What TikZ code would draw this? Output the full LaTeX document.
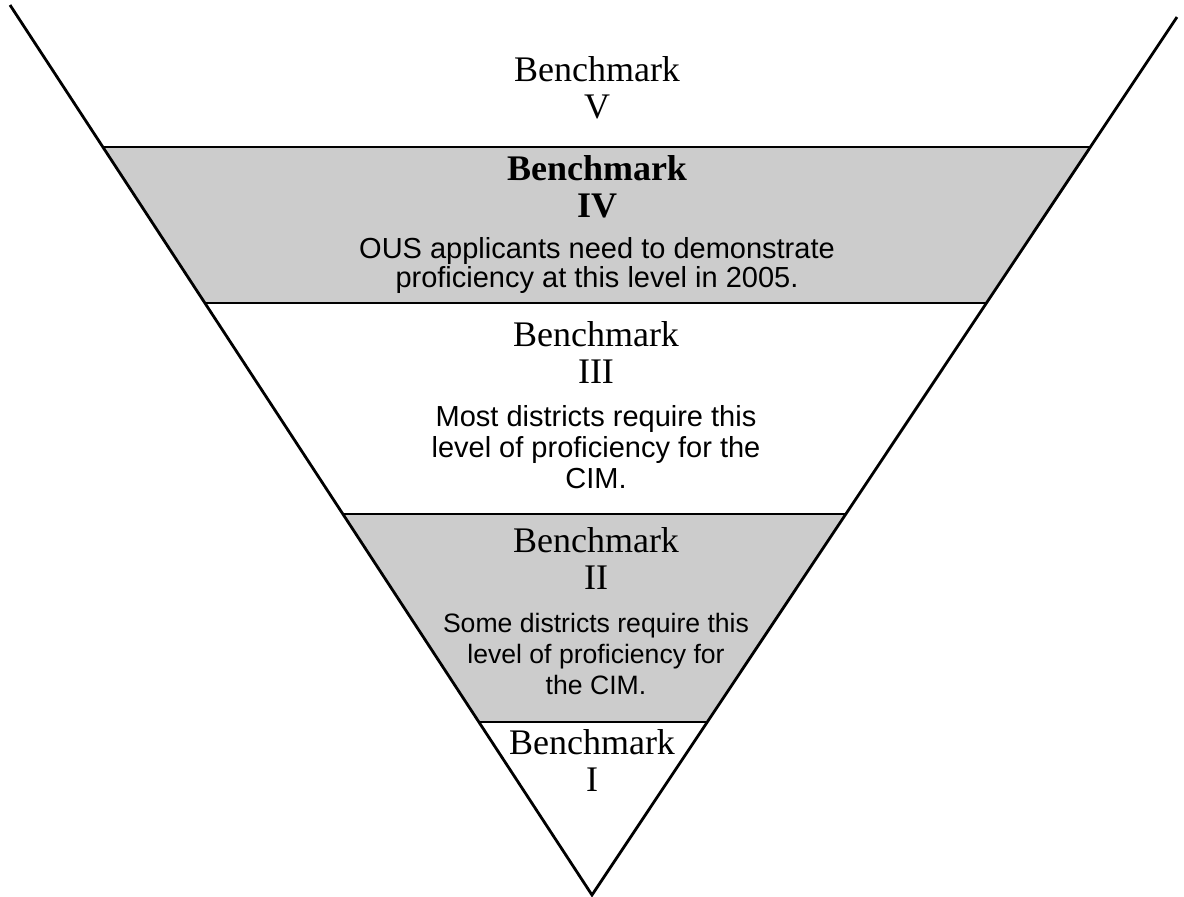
\documentclass[tikz,border=0pt]{standalone}
\usepackage{fontspec}
\setmainfont{Liberation Serif}
\setsansfont{Liberation Sans}
\usetikzlibrary{positioning}
\definecolor{band-gray}{HTML}{CCCCCC}

\begin{document}
\begin{tikzpicture}[x=0.5pt, y=-0.5pt,
  edge/.style={line width=1.4pt},
  band/.style={fill=band-gray},
  title/.style={font=\fontsize{18}{18.8}\selectfont, align=center, inner sep=0pt, anchor=north},
  note/.style={font=\sffamily\fontsize{14.5}{15.5}\selectfont, align=center, inner sep=0pt, anchor=north}]
\useasboundingbox (0,0) rectangle (1184,896);
% shaded bands
\fill[band] (102.9,147) -- (1090.4,147) -- (986.4,303) -- (204.9,303) -- cycle;
\fill[band] (342.8,514) -- (845.9,514) -- (707.3,722) -- (478.9,722) -- cycle;
% funnel
\coordinate (top-left) at (10,5);
\coordinate (top-right) at (1177,17);
\coordinate (apex) at (592,895);
\draw[edge] (top-left) -- (apex) -- (top-right);
\foreach \y/\xl/\xr in {147/102.9/1090.4, 303/204.9/986.4, 514/342.8/845.9, 722/478.9/707.3}
  \draw[edge] (\xl,\y) -- (\xr,\y);
% labels
\node[title] (bench-v) at (597,56) {Benchmark\\V};
\node[title, font=\bfseries\fontsize{18}{18.8}\selectfont] (bench-iv) at (597,155) {Benchmark\\IV};
\node[note, font=\sffamily\fontsize{14.5}{14.6}\selectfont] (note-iv) at (597,237)
  {OUS applicants need to demonstrate\\proficiency at this level in 2005.};
\node[title] (bench-iii) at (596,321) {Benchmark\\III};
\node[note] (note-iii) at (596,405)
  {Most districts require this\\level of proficiency for the\\CIM.};
\node[title] (bench-ii) at (596,527) {Benchmark\\II};
\node[note, font=\sffamily\fontsize{13.3}{15.4}\selectfont] (note-ii) at (596,613)
  {Some districts require this\\level of proficiency for\\the CIM.};
\node[title] (bench-i) at (592,729) {Benchmark\\I};
\end{tikzpicture}
\end{document}
